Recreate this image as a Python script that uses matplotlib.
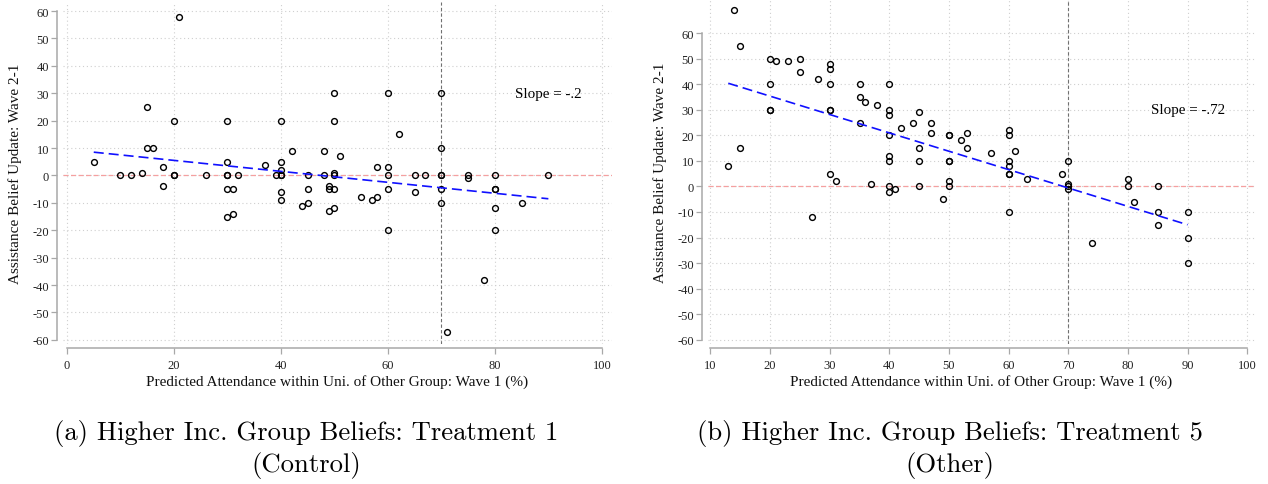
import matplotlib
matplotlib.use('Agg')
import matplotlib.pyplot as plt

plt.rcParams['axes.unicode_minus'] = False
plt.rcParams['font.family'] = ['Liberation Serif', 'DejaVu Serif']

# Treatment 1 (Control): wave-1 prediction vs. belief update
ctrl_x = [5, 10, 12, 14, 15, 15, 16, 18, 18,
          20, 20, 20, 21, 26,
          30, 30, 30, 30, 30, 31, 30, 31, 32, 37, 39,
          40, 40, 40, 40, 40, 40, 40, 42, 44, 45, 45, 45, 48, 48, 49, 49, 49,
          50, 50, 50, 50, 50, 50, 51, 55, 57, 58, 58,
          60, 60, 60, 60, 60, 62, 65, 65, 67,
          70, 70, 70, 70, 70, 70, 71, 75, 75, 78,
          80, 80, 80, 80, 80, 85, 90]
ctrl_y = [5, 0, 0, 1, 25, 10, 10, 3, -4,
          20, 0, 0, 58, 0,
          20, 5, 0, 0, -5, -5, -15, -14, 0, 4, 0,
          20, 5, 2, 0, 0, -6, -9, 9, -11, 0, -5, -10, 9, 0, -4, -5, -13,
          30, 20, 1, 0, -5, -12, 7, -8, -9, -8, 3,
          30, 3, 0, -5, -20, 15, 0, -6, 0,
          30, 10, 0, 0, -5, -10, -57, 0, -1, -38,
          0, -5, -5, -12, -20, -10, 0]
ctrl_fit_x = [5, 90]
ctrl_fit_y = [8.5, -8.5]
ctrl_slope = '-.2'

# Treatment 5 (Other)
oth_x = [13, 14, 15, 15, 20, 20, 20, 20, 21, 23, 25, 25, 27, 28,
         30, 30, 30, 30, 30, 30, 31, 35, 35, 35, 36, 37, 38,
         40, 40, 40, 40, 40, 40, 40, 40, 41, 42, 44, 45, 45, 45, 45, 47, 47, 49,
         50, 50, 50, 50, 50, 50, 52, 53, 53, 57,
         60, 60, 60, 60, 60, 60, 60, 61, 63, 69,
         70, 70, 70, 70, 74, 80, 80, 81, 85, 85, 85, 90, 90, 90]
oth_y = [8, 69, 55, 15, 50, 40, 30, 30, 49, 49, 50, 45, -12, 42,
         48, 46, 40, 30, 30, 5, 2, 40, 35, 25, 33, 1, 32,
         40, 30, 28, 20, 12, 10, 0, -2, -1, 23, 25, 29, 15, 10, 0, 25, 21, -5,
         20, 20, 10, 10, 2, 0, 18, 21, 15, 13,
         22, 20, 10, 8, 5, 5, -10, 14, 3, 5,
         10, 1, 0, -1, -22, 3, 0, -6, 0, -10, -15, -10, -20, -30]
oth_fit_x = [13, 90]
oth_fit_y = [40.4, -15.0]
oth_slope = '-.72'

captions = ['(a) Higher Inc. Group Beliefs: Treatment 1\n(Control)',
            '(b) Higher Inc. Group Beliefs: Treatment 5\n(Other)']

W, H = 1268, 485
fig = plt.figure(figsize=(W / 100, H / 100), dpi=100)

panels = [
    dict(x=ctrl_x, y=ctrl_y, fx=ctrl_fit_x, fy=ctrl_fit_y, slope=ctrl_slope,
         rect=(63, 3, 612, 345), xlim=(-0.75, 101.9), ylim=(-61.5, 63.3),
         xticks=list(range(0, 101, 20)), cap_x=306, cap=captions[0]),
    dict(x=oth_x, y=oth_y, fx=oth_fit_x, fy=oth_fit_y, slope=oth_slope,
         rect=(708, 0, 1255, 345), xlim=(9.6, 101.3), ylim=(-61.7, 73.4),
         xticks=list(range(10, 101, 10)), cap_x=950, cap=captions[1]),
]

grey = '#a8a8a8'
yticks = list(range(-60, 61, 10))
for p in panels:
    x0, y0, x1, y1 = p['rect']
    ax = fig.add_axes([x0 / W, (H - y1) / H, (x1 - x0) / W, (y1 - y0) / H])
    ax.set_xlim(*p['xlim'])
    ax.set_ylim(*p['ylim'])

    ax.set_xticks(p['xticks'])
    ax.set_yticks(yticks)
    ax.grid(True, ls=(0, (1, 2.5)), color='#cfcfcf', lw=0.8)
    ax.set_axisbelow(True)
    # the zero reference line replaces the grid line at y = 0
    ax.yaxis.get_gridlines()[yticks.index(0)].set_visible(False)

    ax.axhline(0, color='#f5a0a0', ls=(0, (4, 2)), lw=0.9, zorder=2)
    ax.axvline(70, color='#707070', ls=(0, (3, 2)), lw=0.8, zorder=2)

    ax.plot(p['x'], p['y'], 'o', mfc='none', mec='black', ms=4.2, mew=1.0, zorder=3)
    ax.plot(p['fx'], p['fy'], color='#1010ff', ls=(0, (6, 3)), lw=1.2, zorder=4)

    ax.text(90, 30, 'Slope = ' + p['slope'], ha='center', va='center', fontsize=10.8)

    for s in ['top', 'right']:
        ax.spines[s].set_visible(False)
    ax.spines['left'].set_position(('outward', 4.5))
    ax.spines['bottom'].set_position(('outward', 3))
    ax.spines['left'].set_bounds(-60, 60)
    ax.spines['bottom'].set_bounds(p['xticks'][0], 100)
    for s in ['left', 'bottom']:
        ax.spines[s].set_color(grey)
        ax.spines[s].set_linewidth(1.1)
    ax.tick_params(direction='out', length=4, width=0.9, color=grey,
                   labelsize=9, labelcolor='#222222')
    ax.tick_params(axis='x', pad=4)
    ax.tick_params(axis='y', pad=1.5)

    ax.set_xlabel('Predicted Attendance within Uni. of Other Group: Wave 1 (%)',
                  fontsize=11, color='#111111', labelpad=2)
    ax.set_ylabel('Assistance Belief Update: Wave 2-1', fontsize=11, color='#111111')
    ax.yaxis.set_label_coords(-0.075, 0.5)

    fig.text(p['cap_x'] / W, 1 - 449.5 / H, p['cap'],
             ha='center', va='center', fontsize=19.2, family='cmr10', linespacing=1.22)

fig.savefig('out.png', dpi=100)
